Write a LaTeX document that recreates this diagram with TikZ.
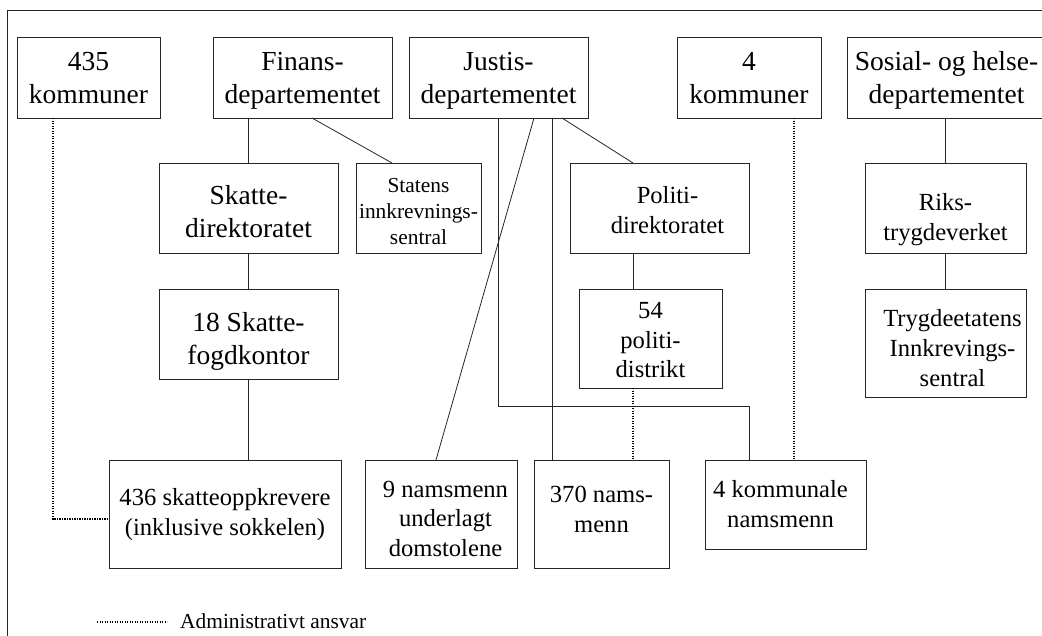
\documentclass[tikz,border=0pt]{standalone}
\usepackage{fontspec}
\setmainfont{Liberation Serif}
\newcommand\myTop[1]{\rule{0pt}{\dimexpr 9pt+#1*2\relax}}
\newcommand\myBot{\rule[-9pt]{0pt}{9pt}}
\begin{document}
\begin{tikzpicture}[x=1pt,y=-1pt,
  box/.style={draw=black!85, line width=0.8pt, inner sep=0pt, outer sep=0pt, align=center},
  wh/.style 2 args={minimum width=#1, minimum height=#2},
  big/.style={font=\fontsize{27.5}{33}\selectfont},
  mid/.style={font=\fontsize{24.6}{29.6}\selectfont},
  sml/.style={font=\fontsize{21.4}{26}\selectfont},
  link/.style={draw=black!85, line width=0.8pt},
  adm/.style={draw=black, line width=1.6pt, dash pattern=on 1.4pt off 1.1pt}]
\useasboundingbox (0,0) rectangle (1042,635);
\clip (0,0) rectangle (1042,635);
% frame
\draw[line width=0.8pt, black!85] (7,645) -- (7,10) -- (1055,10);
% top row
\node[box,big,wh={143pt}{81pt}] (k435) at (88.5,77.5) {\myTop{9.5pt}435\\kommuner\myBot};
\node[box,big,wh={179pt}{81pt}] (fin) at (302.5,77.5) {\myTop{9pt}Finans-\\departementet\myBot};
\node[box,big,wh={179pt}{81pt}] (jus) at (498.5,77.5) {\myTop{9pt}Justis-\\departementet\myBot};
\node[box,big,wh={144pt}{81pt}] (k4) at (749,77.5) {\myTop{9pt}4\\kommuner\myBot};
\node[box,big,wh={199pt}{81pt}] (sos) at (946.5,77.5) {\myTop{9pt}Sosial- og helse-\\departementet\myBot};
% second row
\node[box,big,wh={179pt}{90pt}] (skd) at (248.5,208) {\myTop{12.5pt}Skatte-\\direktoratet\myBot};
\node[box,sml,wh={125pt}{90pt}] (sin) at (418.5,208) {\myTop{10pt}Statens\\innkrevnings-\\sentral\myBot};
\node[box,mid,wh={179pt}{90pt}] (pol) at (659.5,208) {\myTop{10.5pt}\hspace*{16pt}Politi-\\\hspace*{16pt}direktoratet\myBot};
\node[box,mid,wh={161pt}{90pt}] (rtv) at (945.5,208) {\myTop{17.5pt}Riks-\\trygdeverket\myBot};
% third row
\node[box,big,wh={179pt}{90pt}] (sfk) at (248.5,334) {\myTop{13.5pt}18 Skatte-\\fogdkontor\myBot};
\node[box,mid,wh={143pt}{99pt}] (pd) at (650.5,338.5) {\myTop{9.5pt}54\\politi-\\distrikt\myBot};
\node[box,mid,wh={161pt}{108pt}] (tis) at (945.5,343) {\myTop{13.5pt}\hspace*{14pt}Trygdeetatens\\\hspace*{14pt}Innkrevings-\\\hspace*{14pt}sentral\myBot};
% bottom row
\node[box,mid,wh={232pt}{108pt}] (s436) at (225,514) {\myTop{6.3pt}436 skatteoppkrevere\\(inklusive sokkelen)\myBot};
\node[box,mid,wh={152pt}{108pt}] (n9) at (441,514) {\myTop{12.7pt}\hspace*{9pt}9 namsmenn\\\hspace*{9pt}underlagt\\\hspace*{9pt}domstolene\myBot};
\node[box,mid,wh={135pt}{108pt}] (n370) at (601.5,514) {\myTop{2.7pt}370 nams-\\menn\myBot};
\node[box,mid,wh={161pt}{89pt}] (kna) at (785.5,504.5) {\myTop{7.8pt}4 kommunale\hspace*{10pt}\\namsmenn\hspace*{10pt}\myBot};
% Finansdepartementet
\draw[link] (skd.north |- fin.south) -- (skd.north);
\draw[link] (skd.south) -- (sfk.north);
\draw[link] (sfk.south) -- (sfk.south |- s436.north);
\draw[link] ([xshift=9.5pt]fin.south) -- ([xshift=-26.5pt]sin.north);
% Justisdepartementet
\coordinate (jr) at (749,406);
\draw[link] (jus.south) |- (jr) -- (jr |- kna.north);
\draw[link] ([xshift=35.5pt]jus.south) -- ([xshift=-5pt]n9.north);
\coordinate (j3) at ([xshift=18pt]n370.north west);
\draw[link] (j3 |- jus.south) -- (j3);
\draw[link] ([xshift=63.5pt]jus.south) -- ([xshift=-26.5pt]pol.north);
\draw[link] ([xshift=-26.5pt]pol.south) -- ([xshift=-17.5pt]pd.north);
% Sosial- og helsedepartementet
\draw[link] (rtv.north |- sos.south) -- (rtv.north);
\draw[link] (rtv.south) -- (tis.north);
% administrative responsibility
\draw[adm] ([xshift=-17.5pt]pd.south) -- ([xshift=31.5pt]n370.north);
\draw[adm] ([xshift=45pt]k4.south) -- ([xshift=8.5pt]kna.north);
\draw[adm] ([xshift=-35.5pt]k435.south) |- ([yshift=-5pt]s436.west);
% legend
\coordinate (la) at (97,622);
\coordinate (lb) at (167,622);
\draw[adm] (la) -- (lb);
\node[sml, anchor=base west, inner sep=0pt] (leg) at (180,628) {Administrativt ansvar};
\end{tikzpicture}
\end{document}
